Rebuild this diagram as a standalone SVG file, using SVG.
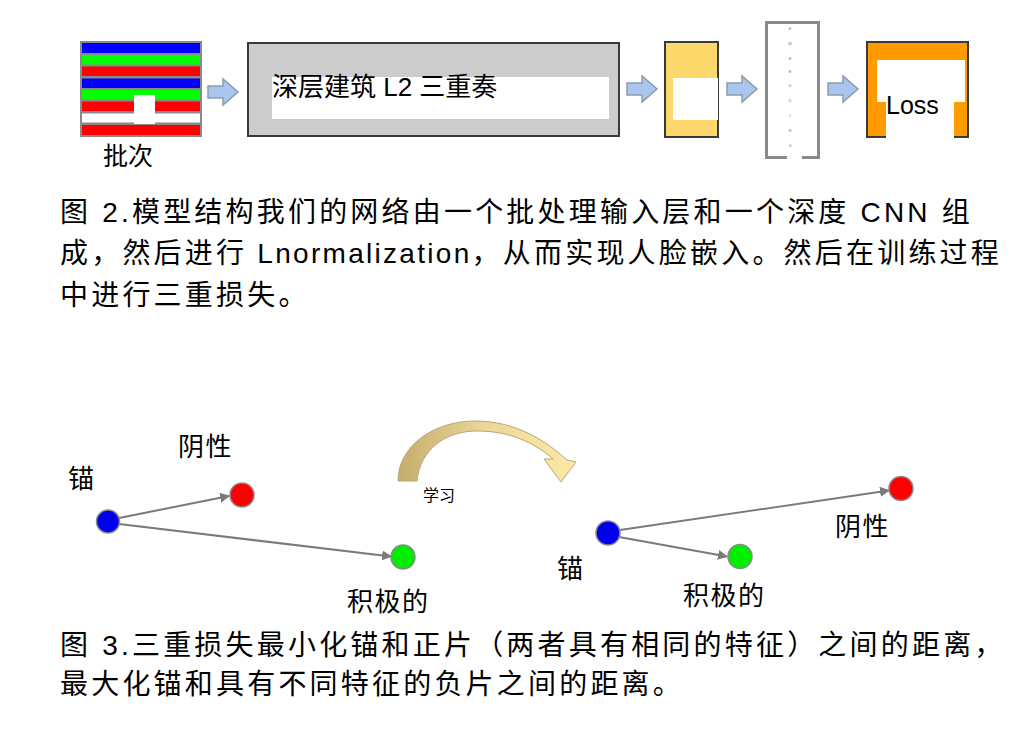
<svg xmlns="http://www.w3.org/2000/svg" width="1018" height="740" viewBox="0 0 1018 740">
<defs>
<style>
.t{font-family:"Liberation Sans","Noto Sans CJK SC",sans-serif;fill:#000}
.cap{font-size:28px;letter-spacing:3.2px}
.lat{letter-spacing:2.3px}
.lbl{font-size:26px;letter-spacing:1.5px}
.box{stroke:#3a3a3a;stroke-width:2}
.blk{fill:#a9c6ee;stroke:#8d9bb0;stroke-width:1.5}
.edge{stroke:#7a7a7a;stroke-width:2;fill:none;marker-end:url(#ah)}
.dot{stroke:#8a8a8a;stroke-width:1.5}
.emb{font-family:"Liberation Sans",sans-serif;font-size:4px;fill:#777;text-anchor:middle}
</style>
<marker id="ah" viewBox="0 0 10 10" refX="9" refY="5" markerWidth="5" markerHeight="5" orient="auto" markerUnits="strokeWidth">
<path d="M0,0 L10,5 L0,10 Z" fill="#7a7a7a"/>
</marker>
<path id="blkarrow" d="M0,-6 H15 V-13 L30,0 L15,13 V6 H0 Z"/>
<linearGradient id="tan" x1="0" y1="0" x2="1" y2="0">
<stop offset="0" stop-color="#c5ad6c"/>
<stop offset="0.5" stop-color="#ecd79a"/>
<stop offset="1" stop-color="#fde9a6"/>
</linearGradient>
</defs>
<rect width="1018" height="740" fill="#fff"/>

<g id="batch">
<rect x="80" y="41" width="122" height="96" fill="#8a8a8a"/>
<rect x="82" y="43" width="118" height="10" fill="#0000ff"/>
<rect x="82" y="55" width="118" height="9.5" fill="#00ff00"/>
<rect x="82" y="66.5" width="118" height="9.5" fill="#ff0000"/>
<rect x="82" y="78.5" width="118" height="9.5" fill="#0000ff"/>
<rect x="82" y="90" width="118" height="9.5" fill="#00ff00"/>
<rect x="82" y="101.5" width="118" height="9.5" fill="#ff0000"/>
<rect x="82" y="113.5" width="118" height="9" fill="#ffffff"/>
<rect x="82" y="125" width="118" height="10" fill="#ff0000"/>
<rect x="134" y="95" width="21" height="29" fill="#fff"/>
<text x="134.5" y="98" class="emb" style="text-anchor:start;fill:#333">...</text>
<text x="103" y="165" class="t" font-size="25">批次</text>
</g>

<g id="deep">
<rect x="248" y="43" width="371" height="93" fill="#cccccc" class="box"/>
<rect x="272" y="77" width="337" height="42" fill="#fff"/>
<text x="272" y="96" class="t" font-size="26">深层建筑 L2 三重奏</text>
</g>

<g id="norm">
<rect x="665" y="42" width="53" height="95" fill="#fdd86b" class="box"/>
<rect x="673" y="78" width="45" height="42" fill="#fff"/>
</g>

<g id="embedding">
<rect x="766.5" y="22.5" width="52" height="135" fill="#fff" stroke="#8a8a8a" stroke-width="3"/>
<rect x="787" y="154" width="15" height="6" fill="#fff"/>
<text x="790" y="30" class="emb">E</text>
<text x="790" y="45" class="emb">M</text>
<text x="790" y="60" class="emb">B</text>
<text x="790" y="73" class="emb">E</text>
<text x="790" y="87" class="emb">D</text>
<text x="790" y="102" class="emb">D</text>
<text x="790" y="117" class="emb">I</text>
<text x="790" y="132" class="emb">N</text>
<text x="790" y="147" class="emb">G</text>
</g>

<g id="loss">
<rect x="867" y="42" width="101" height="95" fill="#ff9a00" class="box"/>
<rect x="877" y="60" width="88" height="42" fill="#fff"/>
<rect x="886" y="101" width="68" height="37" fill="#fff"/>
<text x="886" y="114" class="t" font-size="25">Loss</text>
</g>

<g id="connectors">
<use href="#blkarrow" class="blk" transform="translate(208,92)"/>
<use href="#blkarrow" class="blk" transform="translate(627,89)"/>
<use href="#blkarrow" class="blk" transform="translate(727,89)"/>
<use href="#blkarrow" class="blk" transform="translate(828,89)"/>
<path class="edge" d="M119,518 L229,496"/>
<path class="edge" d="M119,524 L391,556.5"/>
<path class="edge" d="M620,530 L889,490.5"/>
<path class="edge" d="M619,537 L727,556.5"/>
<path d="M398,481 C398,445 435,421 475,421 C515,421 545,440 567,460 L576,462 L561,482 L544,459 L553,459 C535,443 510,431 477,431 C445,431 420,450 417,481 Z" fill="url(#tan)" stroke="#b8a878" stroke-width="1"/>
<text x="423" y="501" class="t" font-size="16">学习</text>
</g>

<g id="caption2">
<text x="60" y="222" class="t cap">图 2.模型结构我们的网络由一个批处理输入层和一个深度 CNN 组</text>
<text x="60" y="263" class="t cap">成，然后进行<tspan class="lat"> Lnormalization</tspan>，从而实现人脸嵌入。然后在训练过程</text>
<text x="60" y="305" class="t cap">中进行三重损失。</text>
</g>

<g id="anchor1">
<circle cx="108" cy="521.5" r="11.5" fill="#0000ee" class="dot"/>
<text x="68" y="488" class="t lbl">锚</text>
</g>
<g id="negative1">
<circle cx="242" cy="495" r="12" fill="#ff0000" class="dot"/>
<text x="178" y="456" class="t lbl">阴性</text>
</g>
<g id="positive1">
<circle cx="403" cy="557" r="12" fill="#00ee00" class="dot"/>
<text x="347" y="611" class="t lbl">积极的</text>
</g>

<g id="anchor2">
<circle cx="608" cy="533" r="12" fill="#0000ee" class="dot"/>
<text x="557" y="578" class="t lbl">锚</text>
</g>
<g id="negative2">
<circle cx="901" cy="488.5" r="12" fill="#ff0000" class="dot"/>
<text x="835" y="536" class="t lbl">阴性</text>
</g>
<g id="positive2">
<circle cx="740" cy="556.5" r="12" fill="#00ee00" class="dot"/>
<text x="683" y="605" class="t lbl">积极的</text>
</g>

<g id="caption3">
<text x="60" y="655" class="t cap">图 3.三重损失最小化锚和正片（两者具有相同的特征）之间的距离，</text>
<text x="60" y="694" class="t cap">最大化锚和具有不同特征的负片之间的距离。</text>
</g>
</svg>
